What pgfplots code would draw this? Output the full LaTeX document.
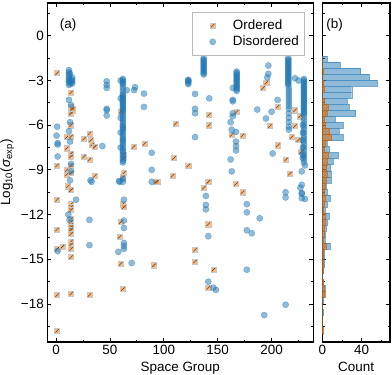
\documentclass[border=0pt]{standalone}
\usepackage{fontspec}
\setmainfont{Liberation Sans}
\usepackage{pgfplots}
\pgfplotsset{compat=1.18}
\usetikzlibrary{patterns}
\definecolor{tblue}{HTML}{1F77B4}
\definecolor{torange}{HTML}{FF7F0E}
\definecolor{sqedge}{HTML}{C8C8C8}
\definecolor{hatchc}{HTML}{5A4030}
\newcommand{\fs}{\fontsize{13.5}{16}\selectfont}
\pgfdeclareplotmark{hsq}{%
  \pgfsetstrokecolor{sqedge}%
  \pgfsetlinewidth{0.5pt}%
  \pgfpathrectangle{\pgfqpoint{-\pgfplotmarksize}{-\pgfplotmarksize}}{\pgfqpoint{2\pgfplotmarksize}{2\pgfplotmarksize}}%
  \pgfusepathqfillstroke
  \pgfsetstrokecolor{hatchc}%
  \pgfsetlinewidth{0.55pt}%
  \pgfpathmoveto{\pgfqpoint{-0.65\pgfplotmarksize}{-0.65\pgfplotmarksize}}%
  \pgfpathlineto{\pgfqpoint{0.65\pgfplotmarksize}{0.65\pgfplotmarksize}}%
  \pgfusepathqstroke
}
\pgfplotsset{
  common/.style={
    scale only axis, height=339bp,
    ymin=-20.55, ymax=2.2,
    tick align=inside, major tick length=4bp, minor tick length=2.3bp,
    axis line style={line width=1.1bp},
    every tick/.style={black, line width=0.8bp},
    ytick={-18,-15,-12,-9,-6,-3,0},
    minor ytick={-19.5,-16.5,-13.5,-10.5,-7.5,-4.5,-1.5,1.5},
    tick label style={font=\fs},
    label style={font=\fs},
    /pgf/number format/assume math mode=true,
  }
}
\begin{document}
\begin{tikzpicture}
\begin{axis}[common, at={(0,0)}, anchor=south west, width=266bp,
  xmin=-8.1, xmax=238.7,
  xtick={0,50,100,150,200}, minor xtick={25,75,125,175,225},
  yticklabels={−18,−15,−12,−9,−6,−3,0},
  xlabel={Space Group},
  ylabel={Log\textsubscript{10}(\textit{σ}\textsubscript{exp})},
  legend style={at={(0.969,0.973)}, anchor=north east, draw=gray!55, line width=0.6bp, font=\fs, inner xsep=4bp, inner ysep=5.5bp, row sep=1bp, column sep=6bp},
  legend cell align=left,
  legend image code/.code={\path (-16bp,0bp) (12bp,0bp); \draw[#1] plot coordinates {(0bp,0bp)};},
]
\addplot[only marks, mark=hsq, mark size=2.6bp, mark options={fill=torange, fill opacity=0.55}] coordinates {
(1,-2.5) (14,-3.8) (14,-4.8) (15,-5.0) (14,-5.2) (15,-4.9) (14,-6.0) (10,-6.8) (14,-6.75)
(1,-8.7) (10,-7.55) (14,-7.9) (14,-8.1) (10,-9.0) (14,-8.7) (10,-9.3) (14,-9.2)
(26,-6.9) (31,-6.55) (32.5,-7.0) (33.5,-7.3) (36,-7.45) (26,-8.1) (31,-8.3) (36,-9.4)
(60,-5.1) (63,-8.0) (63,-8.2) (63,-9.2) (62,-9.5)
(72,-7.45) (82,-7.25) (94,-9.8) (111,-5.9) (109.5,-8.2) (108,-9.4) (122.7,-8.7)
(192,-3.5) (195,-3.15) (142,-5.3) (142,-6.0) (163,-6.65) (167.6,-5.1) (173,-6.7) (205.6,-4.75)
(198.5,-6.05) (206,-7.35) (213.4,-8.3) (221.7,-5.0) (226.3,-5.4) (221.7,-6.05) (218.6,-6.8)
(224.8,-7.0) (227,-7.8) (217,-9.25) (141.3,-9.8) (137,-10.2) (167,-9.95) (173,-10.5)
(1,-11.0) (1,-13.0) (1,-14.3) (6,-14.15) (1,-17.4) (1,-19.8) (11,-10.1) (14,-10.35)
(14,-11.3) (14,-11.5) (14,-11.7) (14,-12.3) (14,-12.5) (14,-12.7) (14,-12.85) (14,-13.0)
(14,-13.3) (14,-13.8) (14,-14.0) (14,-14.3) (14,-14.85) (14,-17.3) (31,-17.4)
(60,-12.5) (59,-13.5) (62,-11.3) (63,-11.5) (60,-15.3) (62,-17.0) (91,-15.4) (93,-9.8)
(141.3,-12.65) (129,-14.35) (129,-15.15) (146,-15.7) (141.3,-16.9)
};
\addlegendentry{Ordered}
\addplot[only marks, mark=*, mark size=3.1bp, mark options={fill=tblue, draw=tblue, fill opacity=0.5, draw opacity=0.5, line width=0.4bp}] coordinates {
(12,-2.3) (12,-2.45) (12,-2.6) (12,-2.75) (12,-2.9) (12,-3.0) (12,-3.1) (13,-3.2) (12,-3.3)
(15,-2.8) (15,-2.95) (15,-3.05) (15,-3.2) (14,-3.1) (13,-2.55)
(12,-4.3) (14,-4.65) (13,-5.8) (12,-6.4) (13,-7.1) (14,-8.6) (14,-9.1) (13,-9.7)
(1,-6.1) (0.5,-6.7) (1.5,-7.2) (1.5,-7.3) (1.5,-8.1)
(47,-3.05) (47,-3.3) (47,-3.5) (47,-4.9) (47,-5.0) (47,-5.35) (43,-7.4) (32,-9.7)
(62,-2.9) (62,-3.0) (62,-3.1) (62,-3.2) (62,-3.3) (62,-3.5) (62,-3.7) (62,-3.9) (62,-4.0)
(62,-4.1) (62,-4.2) (62,-4.3) (62,-4.4) (62,-4.5) (62,-4.6) (62,-4.7) (62,-4.8) (62,-4.9)
(62,-5.0) (62,-5.1) (62,-5.25) (62,-5.4) (62,-5.55) (62,-5.7) (62,-5.85) (62,-6.0) (62,-6.1)
(62,-6.2) (62,-6.3) (62,-6.45) (62,-6.6) (62,-6.75) (62,-6.9) (62,-7.0) (62,-7.1) (62,-7.25)
(62,-7.4) (62,-7.55) (62,-7.7) (62,-7.8) (62,-7.95) (62,-8.1) (62,-8.25) (62,-8.4) (62,-8.5)
(60,-3.0) (60,-4.2) (60,-5.5) (60,-6.5) (60,-7.5) (62,-9.6) (62,-9.8)
(65.6,-3.65) (72.5,-3.65) (73.3,-3.45) (81.6,-3.88) (81.6,-4.77) (88.8,-7.85) (88.8,-9.0)
(88.8,-9.8) (58.4,-9.75) (59,-9.8)
(122.7,-2.95) (122.7,-3.0) (122.7,-3.05) (122.7,-3.15) (122.7,-3.25)
(129,-3.9) (129,-4.9) (129,-5.2) (129,-6.8)
(137,-1.5) (137,-1.6) (137,-1.7) (137,-1.8) (137,-1.9) (137,-2.0) (137,-2.1) (137,-2.2)
(137,-2.3) (137,-2.4) (137,-2.5) (137,-2.6) (142.2,-4.2)
(167.6,-2.4) (167.6,-2.5) (167.6,-2.6) (167.6,-2.7) (167.6,-2.8) (167.6,-2.9) (167.6,-3.0)
(167.6,-3.1) (167.6,-3.2) (167.6,-3.3) (167.6,-3.4) (167.6,-3.5) (167.6,-3.6) (167.6,-3.7)
(164,-3.5) (164,-4.3) (164,-4.4) (164,-5.2) (164,-5.4) (162,-5.8) (163,-6.3) (167,-6.45)
(167,-7.1) (167,-7.4) (167,-7.7) (162,-8.3) (163,-9.1)
(186.7,-4.95) (194.8,-5.55) (197,-2.0) (197,-2.55) (196,-2.8) (200,-5.1) (205.6,-4.3) (201,-7.9)
(215.5,-1.5) (215.5,-1.6) (215.5,-1.7) (215.5,-1.8) (215.5,-1.9) (215.5,-2.0) (215.5,-2.1)
(215.5,-2.2) (215.5,-2.3) (215.5,-2.4) (215.5,-2.5) (215.5,-2.6) (215.5,-2.7) (215.5,-2.8)
(215.5,-2.9) (215.5,-3.0) (215.5,-3.1) (215.5,-3.2) (215.5,-3.3)
(216,-3.5) (216,-3.7) (216,-3.9) (216,-4.1) (216,-4.3) (216,-4.5) (216,-4.7) (216,-4.9)
(216,-5.2) (216,-5.5) (216,-5.8) (216,-6.1) (216,-6.3)
(221.7,-2.85) (225,-3.0)
(230,-2.9) (230,-3.0) (230,-3.1) (230,-3.2) (230,-3.3) (230,-3.4) (230,-3.5) (230,-3.6)
(230,-3.7) (230,-3.8) (230,-3.9) (230,-4.0) (230,-4.1) (230,-4.2) (230,-4.3) (230,-4.4)
(230,-4.5) (230,-4.6) (230,-4.7) (230,-4.8) (230,-4.9) (230,-5.0) (230,-5.1) (230,-5.2)
(230,-5.3) (230,-5.5) (230,-5.7) (230,-5.9) (230,-6.1) (230,-6.3) (230,-6.5) (230,-6.7)
(230,-6.9) (230,-7.1) (230,-7.3) (230,-7.5) (230,-7.7) (230,-7.9) (230,-8.1) (230,-8.3) (230,-8.5)
(229,-6.0) (229,-6.5) (229,-7.0) (229,-7.5) (229,-8.0) (229,-8.2) (231,-8.7) (228,-9.1) (226.7,-10.2)
(18.6,-11.0) (11.4,-12.0) (12.5,-12.35) (31,-12.35) (31,-14.05) (1.5,-14.45) (63,-11.0)
(63,-12.4) (63,-12.9) (63,-13.9) (63,-14.1) (63,-14.3) (57.8,-14.5) (70.2,-15.25) (33,-9.8)
(228,-10.0) (228,-10.55) (228,-10.6) (213,-10.5) (213,-10.85) (228,-10.9) (231,-10.95)
(139,-10.75) (139,-11.35) (139,-11.65) (177,-11.3) (177,-11.85) (189,-12.25) (177,-13.05)
(181.6,-13.25) (141.3,-13.45) (177,-15.7) (141.3,-16.5) (146,-16.9) (148.4,-17.05)
(213,-18.05) (193.2,-18.75)
};
\addlegendentry{Disordered}
\node[font=\fs] at (rel axis cs:0.078,0.935) {(a)};
\end{axis}
\begin{axis}[common, at={(275bp,0)}, anchor=south west, width=67.7bp,
  xmin=0, xmax=69,
  xtick={0,40}, minor xtick={20,60},
  yticklabels={},
  xlabel={Count},
]
\addplot[xbar interval, fill=tblue, fill opacity=0.5, draw=tblue, draw opacity=0.6, line width=0.4bp] coordinates {
(0,-19.99) (0,-19.585) (0,-19.18) (1,-18.775) (0,-18.37) (1,-17.965) (2,-17.56) (3,-17.155)
(1,-16.75) (0,-16.345) (1,-15.94) (2,-15.535) (2,-15.13) (2,-14.725) (8,-14.32) (3,-13.915)
(3,-13.51) (4,-13.105) (5,-12.7) (7,-12.295) (3,-11.89) (5,-11.485) (8,-11.08) (5,-10.675)
(4,-10.27) (9,-9.865) (9,-9.46) (8,-9.055) (11,-8.65) (16,-8.245) (7,-7.84) (5,-7.435)
(21,-7.03) (17,-6.625) (21,-6.22) (13,-5.815) (34,-5.41) (27,-5.005) (25,-4.6) (30,-4.195)
(30,-3.79) (56,-3.385) (48,-2.98) (39,-2.575) (18,-2.17) (5,-1.765) (0,-1.36)
};
\addplot[xbar interval, fill=torange, fill opacity=0.55, draw=torange!80!black, draw opacity=0.5, line width=0.3bp, postaction={pattern=north east lines, pattern color=hatchc}] coordinates {
(1,-19.99) (0,-19.585) (0,-19.18) (0,-18.775) (0,-18.37) (0,-17.965) (3,-17.56) (2,-17.155)
(1,-16.75) (0,-16.345) (1,-15.94) (1,-15.535) (1,-15.13) (1,-14.725) (4,-14.32) (1,-13.915)
(2,-13.51) (2,-13.105) (3,-12.7) (3,-12.295) (1,-11.89) (2,-11.485) (3,-11.08) (2,-10.675)
(3,-10.27) (4,-9.865) (5,-9.46) (4,-9.055) (5,-8.65) (6,-8.245) (2,-7.84) (3,-7.435)
(9,-7.03) (7,-6.625) (3,-6.22) (2,-5.815) (5,-5.41) (6,-5.005) (2,-4.6) (0,-4.195)
(2,-3.79) (1,-3.385) (0,-2.98) (1,-2.575) (0,-2.17) (0,-1.765) (0,-1.36)
};
\node[font=\fs] at (rel axis cs:0.183,0.935) {(b)};
\end{axis}
\pgfresetboundingbox
\path[use as bounding box] (-47.3bp,-33bp) rectangle (344.7bp,342bp);
\end{tikzpicture}
\end{document}
